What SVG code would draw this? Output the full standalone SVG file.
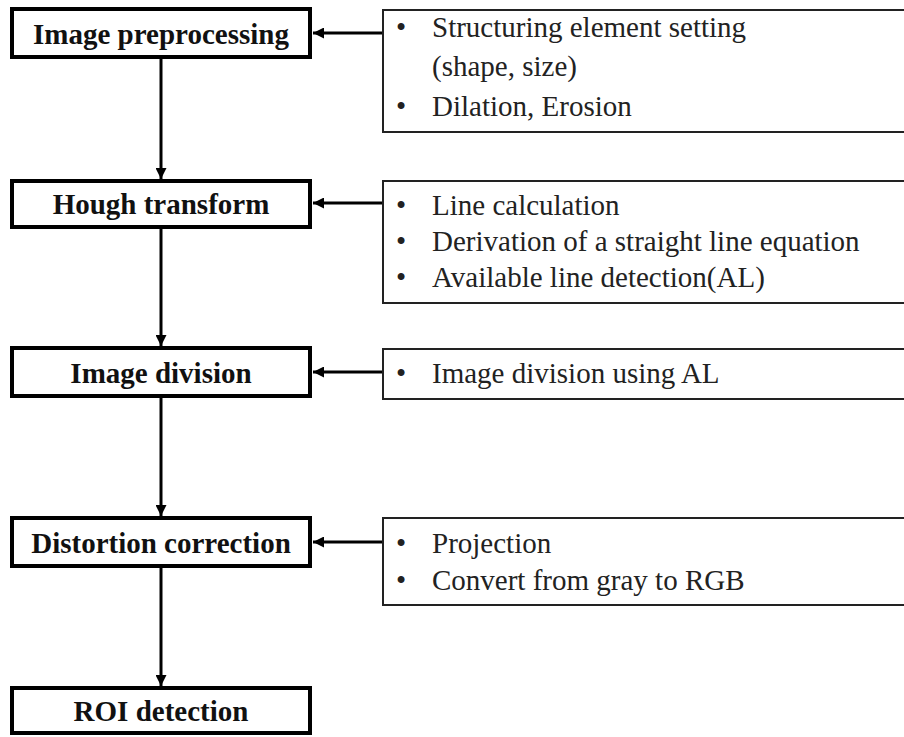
<svg xmlns="http://www.w3.org/2000/svg" width="904" height="737" viewBox="0 0 904 737">
<defs>
<style>
.step{fill:#fff;stroke:#000;stroke-width:4}
.note{fill:#fff;stroke:#222;stroke-width:2}
.st{font-family:"Liberation Serif","Times New Roman",serif;font-weight:bold;font-size:29px;fill:#111;text-anchor:middle}
.nt{font-family:"Liberation Serif","Times New Roman",serif;font-size:29px;fill:#222}
.conn{stroke:#000;stroke-width:3;fill:none}
</style>
<marker id="ah" viewBox="0 0 10 10" refX="10" refY="5" markerUnits="userSpaceOnUse" markerWidth="11" markerHeight="11" orient="auto">
<path d="M0,0 L10,5 L0,10 Z" fill="#000"/>
</marker>
</defs>
<rect width="904" height="737" fill="#fff"/>

<g id="connectors">
<line class="conn" x1="161" y1="59" x2="161" y2="179" marker-end="url(#ah)"/>
<line class="conn" x1="161" y1="229" x2="161" y2="346" marker-end="url(#ah)"/>
<line class="conn" x1="161" y1="398" x2="161" y2="516" marker-end="url(#ah)"/>
<line class="conn" x1="161" y1="568" x2="161" y2="686" marker-end="url(#ah)"/>
<line class="conn" x1="383" y1="33" x2="313" y2="33" marker-end="url(#ah)"/>
<line class="conn" x1="383" y1="203" x2="313" y2="203" marker-end="url(#ah)"/>
<line class="conn" x1="383" y1="372" x2="313" y2="372" marker-end="url(#ah)"/>
<line class="conn" x1="383" y1="542" x2="313" y2="542" marker-end="url(#ah)"/>
</g>

<g id="step1"><rect class="step" x="12" y="9" width="298" height="48"/><text class="st" x="161" y="44">Image preprocessing</text></g>
<g id="step2"><rect class="step" x="12" y="181" width="298" height="46"/><text class="st" x="161" y="214">Hough transform</text></g>
<g id="step3"><rect class="step" x="12" y="348" width="298" height="48"/><text class="st" x="161" y="383">Image division</text></g>
<g id="step4"><rect class="step" x="12" y="518" width="298" height="48"/><text class="st" x="161" y="553">Distortion correction</text></g>
<g id="step5"><rect class="step" x="12" y="688" width="298" height="45"/><text class="st" x="161" y="721">ROI detection</text></g>

<g id="note1"><rect class="note" x="383" y="10" width="540" height="122"/>
<text class="nt" x="396" y="37">•</text><text class="nt" x="432" y="37">Structuring element setting</text>
<text class="nt" x="432" y="76">(shape, size)</text>
<text class="nt" x="396" y="116">•</text><text class="nt" x="432" y="116">Dilation, Erosion</text></g>

<g id="note2"><rect class="note" x="383" y="181" width="540" height="122"/>
<text class="nt" x="396" y="215">•</text><text class="nt" x="432" y="215">Line calculation</text>
<text class="nt" x="396" y="251">•</text><text class="nt" x="432" y="251">Derivation of a straight line equation</text>
<text class="nt" x="396" y="287">•</text><text class="nt" x="432" y="287">Available line detection(AL)</text></g>

<g id="note3"><rect class="note" x="383" y="349" width="540" height="50"/>
<text class="nt" x="396" y="383">•</text><text class="nt" x="432" y="383">Image division using AL</text></g>

<g id="note4"><rect class="note" x="383" y="518" width="540" height="87"/>
<text class="nt" x="396" y="553">•</text><text class="nt" x="432" y="553">Projection</text>
<text class="nt" x="396" y="590">•</text><text class="nt" x="432" y="590">Convert from gray to RGB</text></g>
</svg>
